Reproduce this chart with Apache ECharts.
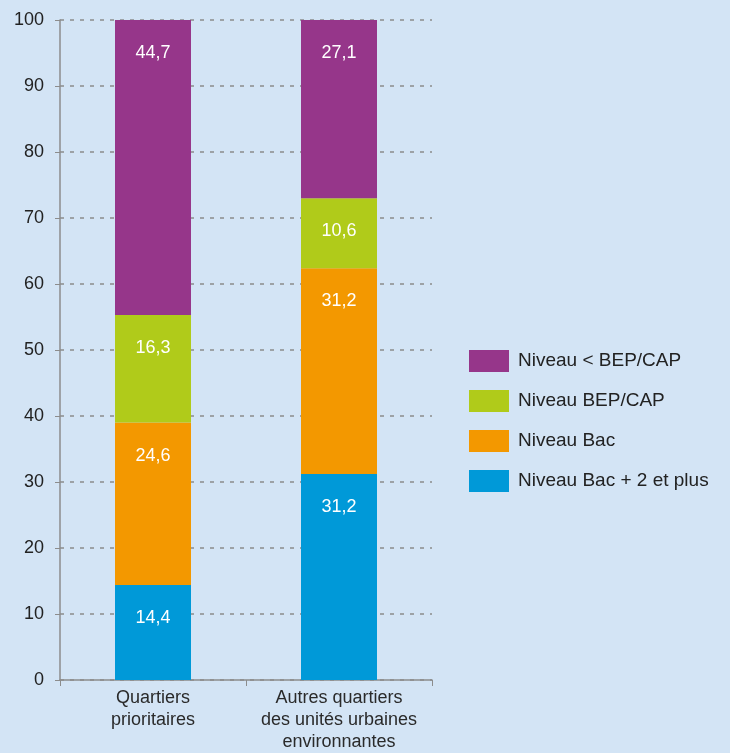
<!DOCTYPE html>
<html>
<head>
<meta charset="utf-8">
<script src="https://cdn.jsdelivr.net/npm/echarts@6/dist/echarts.min.js"></script>
<style>
  html, body { margin: 0; padding: 0; background: #d3e4f5; }
  #chart { width: 730px; height: 753px; }
</style>
</head>
<body>
<div id="chart"></div>
<script>
const categories = ['Quartiers\nprioritaires', 'Autres quartiers\ndes unités urbaines\nenvironnantes']
const seriesNames = ['Niveau Bac + 2 et plus', 'Niveau Bac', 'Niveau BEP/CAP', 'Niveau < BEP/CAP']
const bac2Plus = [14.4, 31.2]
const bac = [24.6, 31.2]
const bepCap = [16.3, 10.6]
const infBepCap = [44.7, 27.1]
const colors = ['#0099d8', '#f39800', '#b0cb1a', '#96368a']

const seriesValues = [bac2Plus, bac, bepCap, infBepCap]

const chart = echarts.init(document.getElementById('chart'))

chart.setOption({
  backgroundColor: '#d3e4f5',
  animation: false,
  textStyle: { fontFamily: 'Liberation Sans, Arial, sans-serif' },
  grid: { left: 60, right: 298, top: 20, bottom: 68 },
  legend: {
    orient: 'vertical',
    left: 464,
    top: 345,
    itemWidth: 40,
    itemHeight: 22,
    itemGap: 18,
    icon: 'rect',
    data: seriesNames.slice().reverse(), // violet en haut comme dans la pile
    textStyle: { fontSize: 19, color: '#222', padding: [0, 0, 0, 4] },
  },
  xAxis: {
    type: 'category',
    data: categories,
    axisLine: { lineStyle: { color: '#8c8c8c', width: 1.5 } },
    axisTick: { show: true, length: 6, lineStyle: { color: '#8c8c8c' } },
    axisLabel: { interval: 0, fontSize: 18, color: '#2a2a2a', lineHeight: 22, margin: 7 },
  },
  yAxis: {
    type: 'value',
    min: 0,
    max: 100,
    interval: 10,
    axisLine: { show: true, lineStyle: { color: '#8c8c8c', width: 1.5 } },
    axisTick: { show: true, length: 5, lineStyle: { color: '#8c8c8c' } },
    axisLabel: { fontSize: 18, color: '#222', margin: 16 },
    splitLine: { lineStyle: { color: '#8c8c8c', type: [4, 6], width: 1.5 } },
  },
  series: seriesNames.map((name, i) => ({
    name: name,
    type: 'bar',
    stack: 'total',
    barWidth: 76,
    itemStyle: { color: colors[i] },
    label: {
      show: true,
      position: 'insideTop',
      distance: 24,
      color: '#fff',
      fontSize: 18,
      formatter: (p) => String(p.value).replace('.', ','),
    },
    data: seriesValues[i],
  })),
})
</script>
</body>
</html>
